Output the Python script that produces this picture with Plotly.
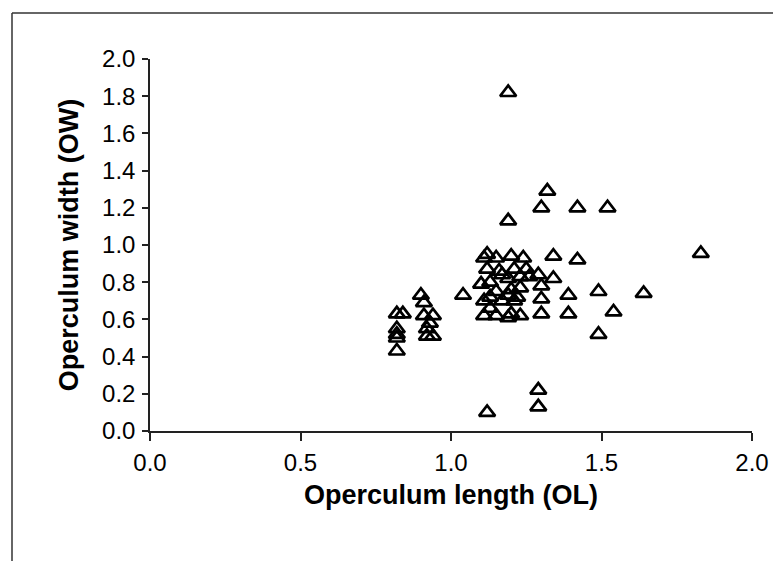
import plotly.graph_objects as go

# Operculum length (OL) and width (OW) for each specimen
ol = [0.82, 0.84, 0.82, 0.82, 0.82, 0.82,
      0.90, 0.91, 0.91, 0.94, 0.92, 0.92, 0.94, 0.93,
      1.04,
      1.11, 1.12, 1.15, 1.20, 1.24,
      1.12, 1.16, 1.21, 1.25,
      1.10, 1.13, 1.19, 1.23, 1.26, 1.17,
      1.15, 1.20, 1.22, 1.11, 1.17, 1.13, 1.19, 1.23, 1.21,
      1.11, 1.15, 1.19, 1.23, 1.20, 1.13,
      1.19, 1.19,
      1.29, 1.30, 1.30, 1.30, 1.34, 1.34, 1.42, 1.39, 1.39, 1.49, 1.64, 1.54, 1.49, 1.83,
      1.32, 1.30, 1.42, 1.52,
      1.29, 1.29, 1.12]
ow = [0.63, 0.63, 0.55, 0.52, 0.50, 0.43,
      0.73, 0.69, 0.62, 0.62, 0.55, 0.51, 0.51, 0.58,
      0.73,
      0.93, 0.95, 0.93, 0.94, 0.93,
      0.87, 0.86, 0.87, 0.87,
      0.79, 0.80, 0.82, 0.83, 0.83, 0.84,
      0.75, 0.76, 0.72, 0.70, 0.70, 0.72, 0.73, 0.77, 0.70,
      0.62, 0.62, 0.61, 0.62, 0.63, 0.66,
      1.13, 1.82,
      0.84, 0.78, 0.71, 0.63, 0.94, 0.82, 0.92, 0.73, 0.63, 0.75, 0.74, 0.64, 0.52, 0.955,
      1.29, 1.20, 1.20, 1.20,
      0.22, 0.13, 0.10]

x_ticks = [0.0, 0.5, 1.0, 1.5, 2.0]
x_labels = ["0.0", "0.5", "1.0", "1.5", "2.0"]
y_ticks = [0.0, 0.2, 0.4, 0.6, 0.8, 1.0, 1.2, 1.4, 1.6, 1.8, 2.0]
y_labels = ["0.0", "0.2", "0.4", "0.6", "0.8", "1.0", "1.2", "1.4", "1.6", "1.8", "2.0"]

W, H = 773, 553
L, R, T, B = 142, 29, 51, 130
pw, ph = W - L - R, H - T - B

fig = go.Figure()
fig.add_trace(go.Scatter(
    x=ol, y=ow, mode="markers", cliponaxis=False,
    marker=dict(symbol="triangle-up-open", size=14, color="black",
                line=dict(color="black", width=2.7)),
    showlegend=False,
))

font_family = "Liberation Sans, Arial, Helvetica, sans-serif"
fig.update_layout(
    width=W, height=H,
    margin=dict(l=L, r=R, t=T, b=B),
    paper_bgcolor="white", plot_bgcolor="white",
    font=dict(family=font_family, color="black", size=24),
    xaxis=dict(range=[0, 2], tickvals=x_ticks, ticktext=x_labels,
               showgrid=False, zeroline=False, showline=True,
               linecolor="#222", linewidth=1.5,
               ticks="outside", ticklen=8, tickwidth=1.5, tickcolor="#222",
               tickfont=dict(size=24), ticklabelstandoff=1,
               title=dict(text="<b>Operculum length (OL)</b>", font=dict(size=27), standoff=11)),
    yaxis=dict(range=[0, 2], tickvals=y_ticks, ticktext=y_labels,
               showgrid=False, zeroline=False, showline=True,
               linecolor="#222", linewidth=1.5,
               ticks="outside", ticklen=6, tickwidth=1.5, tickcolor="#222",
               tickfont=dict(size=24), ticklabelstandoff=2,
               title=dict(text="<b>Operculum width (OW)</b>", font=dict(size=27), standoff=16)),
    shapes=[
        dict(type="line", xref="paper", yref="paper",
             x0=(4 - L) / pw, x1=(W + 10 - L) / pw,
             y0=(T + ph - 5) / ph, y1=(T + ph - 5) / ph,
             line=dict(color="#333", width=1.5)),
        dict(type="line", xref="paper", yref="paper",
             x0=(4 - L) / pw, x1=(4 - L) / pw,
             y0=(T + ph - 5) / ph, y1=(T + ph - H - 10) / ph,
             line=dict(color="#333", width=1.5)),
    ],
)

fig.write_html("out.html")
